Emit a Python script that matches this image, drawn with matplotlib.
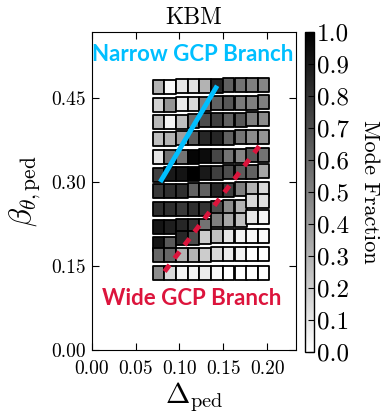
import numpy as np
import matplotlib
matplotlib.use('Agg')
import matplotlib.pyplot as plt
from matplotlib.patches import Rectangle
from matplotlib.collections import PatchCollection
from matplotlib.ticker import FormatStrFormatter

plt.rcParams['font.family'] = 'serif'
plt.rcParams['font.serif'] = ['cmr10']
plt.rcParams['mathtext.fontset'] = 'cm'
plt.rcParams['axes.formatter.use_mathtext'] = True

# pedestal width for each column of the scan
delta_ped = [0.076, 0.089, 0.103, 0.116, 0.129, 0.143, 0.156, 0.170, 0.183, 0.196]

# pedestal beta of each cell (rows top -> bottom, columns left -> right)
beta_ped = [
    [0.470, 0.470, 0.471, 0.471, 0.472, 0.472, 0.473, 0.473, 0.474, 0.474],
    [0.438, 0.438, 0.439, 0.439, 0.440, 0.441, 0.441, 0.442, 0.442, 0.443],
    [0.407, 0.408, 0.408, 0.409, 0.410, 0.410, 0.411, 0.411, 0.412, 0.412],
    [0.377, 0.377, 0.378, 0.378, 0.378, 0.379, 0.379, 0.380, 0.380, 0.380],
    [0.344, 0.344, 0.345, 0.345, 0.346, 0.346, 0.347, 0.347, 0.348, 0.348],
    [0.313, 0.314, 0.315, 0.315, 0.316, 0.316, 0.317, 0.318, 0.318, 0.319],
    [0.284, 0.284, 0.284, 0.285, 0.285, 0.285, 0.286, 0.287, 0.287, 0.287],
    [0.251, 0.251, 0.251, 0.252, 0.252, 0.254, 0.256, 0.256, 0.266, 0.266],
    [0.220, 0.220, 0.221, 0.221, 0.222, 0.232, 0.232, 0.232, 0.238, 0.238],
    [0.190, 0.190, 0.200, 0.200, 0.202, 0.204, 0.204, 0.204, 0.204, 0.204],
    [0.170, 0.170, 0.170, 0.170, 0.170, 0.171, 0.171, 0.171, 0.171, 0.171],
    [0.137, 0.137, 0.137, 0.137, 0.137, 0.138, 0.138, 0.138, 0.138, 0.138],
]

# KBM mode fraction of each cell
mode_frac = [
    [0.30, 0.02, 0.10, 0.12, 0.30, 0.85, 0.62, 0.55, 0.50, 0.48],
    [0.18, 0.42, 0.08, 0.15, 0.50, 0.62, 0.66, 0.52, 0.50, 0.50],
    [0.28, 0.05, 0.25, 0.58, 0.70, 0.75, 0.62, 0.66, 0.50, 0.45],
    [0.25, 0.30, 0.38, 0.64, 0.85, 0.85, 0.62, 0.54, 0.45, 0.42],
    [0.10, 0.55, 0.55, 0.98, 0.95, 0.72, 0.55, 0.48, 0.65, 0.55],
    [0.75, 0.90, 0.92, 1.00, 0.90, 0.75, 0.70, 0.64, 0.62, 0.35],
    [0.78, 0.82, 0.82, 0.62, 0.62, 0.85, 0.75, 0.50, 0.30, 0.15],
    [0.82, 0.82, 0.78, 0.82, 0.80, 0.70, 0.45, 0.30, 0.15, 0.12],
    [0.92, 0.88, 0.85, 0.80, 0.55, 0.50, 0.35, 0.25, 0.10, 0.05],
    [0.92, 0.65, 0.85, 0.70, 0.20, 0.25, 0.10, 0.05, 0.03, 0.02],
    [0.60, 0.60, 0.30, 0.30, 0.20, 0.15, 0.08, 0.05, 0.00, 0.00],
    [0.45, 0.15, 0.05, 0.05, 0.08, 0.03, 0.00, 0.00, 0.00, 0.00],
]

# branch lines
narrow_delta = [0.078, 0.143]
narrow_beta = [0.300, 0.472]
wide_delta = [0.083, 0.191]
wide_beta = [0.140, 0.364]

x_ticks = [0.00, 0.05, 0.10, 0.15, 0.20]
y_ticks = [0.00, 0.15, 0.30, 0.45]
cb_ticks = [0.0, 0.1, 0.2, 0.3, 0.4, 0.5, 0.6, 0.7, 0.8, 0.9, 1.0]

fig = plt.figure(figsize=(3.91, 4.16), dpi=100)
ax = fig.add_axes([0.235, 0.159, 0.522, 0.764])
cax = fig.add_axes([0.780, 0.154, 0.023, 0.769])

w = 0.0134
h = 0.025
rects = []
vals = []
for i in range(len(beta_ped)):
    for j in range(len(delta_ped)):
        rects.append(Rectangle((delta_ped[j] - w / 2, beta_ped[i][j] - h / 2), w, h))
        vals.append(mode_frac[i][j])

pc = PatchCollection(rects, cmap='gray_r', edgecolor='black', linewidths=1.3)
pc.set_array(np.array(vals))
pc.set_clim(0, 1)
ax.add_collection(pc)

ax.plot(narrow_delta, narrow_beta, color='#00BFFF', lw=3.5, solid_capstyle='butt')
ax.plot(wide_delta, wide_beta, color='crimson', lw=3.5, dashes=(1.7, 1.7),
        dash_capstyle='butt')

ax.text(0.1155, 0.527, 'Narrow GCP Branch', color='#00BFFF', fontsize=16,
        fontweight='bold', family='Lato', ha='center', va='center')
ax.text(0.1145, 0.091, 'Wide GCP Branch', color='crimson', fontsize=16,
        fontweight='bold', family='Lato', ha='center', va='center')

ax.set_xlim(0, 0.233)
ax.set_ylim(0, 0.568)
ax.set_xticks(x_ticks)
ax.set_yticks(y_ticks)
ax.xaxis.set_major_formatter(FormatStrFormatter('%.2f'))
ax.yaxis.set_major_formatter(FormatStrFormatter('%.2f'))
ax.tick_params(direction='in', top=True, right=True, length=5, width=0.8,
               labelsize=14, pad=4)
ax.tick_params(axis='x', pad=7)
ax.set_title('KBM', fontsize=17, pad=6)
ax.set_xlabel(r'$\Delta_{\rm ped}$', fontsize=21, labelpad=2)
ax.set_ylabel(r'$\beta_{\theta,\rm ped}$', fontsize=22, labelpad=6)

cb = fig.colorbar(pc, cax=cax, ticks=cb_ticks)
cb.ax.yaxis.set_major_formatter(FormatStrFormatter('%.1f'))
cb.ax.tick_params(direction='in', length=4, width=0.8, labelsize=18, pad=2)
cb.outline.set_linewidth(1.0)
cb.set_label('Mode Fraction', fontsize=16, rotation=270, labelpad=22)

fig.savefig('out.png', dpi=100)
